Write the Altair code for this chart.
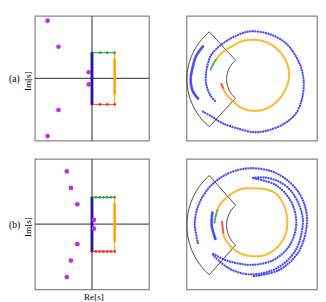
import altair as alt
import numpy as np
import pandas as pd

# ---------------- left panels : s-plane ----------------
poles_a_re = [-0.777, -0.587, -0.056, -0.056, -0.587, -0.777]
poles_a_im = [0.925, 0.507, 0.098, -0.098, -0.507, -0.925]
poles_b_re = [-0.441, -0.369, -0.257, 0.034, 0.034, -0.257, -0.369, -0.441]
poles_b_im = [0.810, 0.557, 0.305, 0.068, -0.068, -0.305, -0.557, -0.810]

contour_re = [0.0, 0.397]          # left / right edge of the contour
contour_im = [-0.418, 0.412]       # bottom / top edge of the contour
orange_dense_im = [-0.27, 0.32]
hdots_a = [0.0, 0.145, 0.268, 0.397]
hdots_b = [0.0, 0.067, 0.133, 0.2, 0.267, 0.333, 0.397]

# ---------------- right panels : image plane ----------------
sector_r = [0.40, 1.0]
sector_half_angle = 48.6

a_orange_x = [-0.444, -0.421, -0.299, -0.179, -0.009, 0.184, 0.383, 0.504, 0.547, 0.504, 0.383, 0.199, -0.009, -0.179, -0.324, -0.469, -0.566]
a_orange_y = [-0.160, -0.218, -0.353, -0.450, -0.498, -0.472, -0.329, -0.131, 0.065, 0.276, 0.460, 0.588, 0.624, 0.598, 0.518, 0.421, 0.300]
a_red_x = [-0.479, -0.462, -0.444]
a_red_y = [-0.073, -0.116, -0.160]
a_green_x = [-0.566, -0.607, -0.639]
a_green_y = [0.300, 0.232, 0.155]
a_blue1_ang = [145.7, 156.5, 166, 181, 192, 200]
a_blue1_r = [0.919, 0.935, 0.932, 0.943, 0.929, 0.885]
a_blue2_ang = [214, 224, 236, 250, 271, 284, 302, 320, 338, 359, 382, 409, 430, 452.5, 468, 485, 500, 510, 522, 533, 545, 560, 572]
a_blue2_r = [0.914, 0.856, 0.836, 0.813, 0.837, 0.839, 0.845, 0.845, 0.801, 0.765, 0.745, 0.755, 0.756, 0.759, 0.737, 0.726, 0.734, 0.740, 0.723, 0.716, 0.714, 0.697, 0.668]

b_orange_x = [-0.447, -0.430, -0.324, -0.179, -0.009, 0.184, 0.366, 0.489, 0.518, 0.460, 0.344, 0.184, 0.010, -0.179, -0.372, -0.493, -0.541]
b_orange_y = [-0.131, -0.189, -0.334, -0.431, -0.469, -0.450, -0.334, -0.145, 0.062, 0.319, 0.479, 0.544, 0.556, 0.547, 0.440, 0.319, 0.222]
b_red_x = [-0.469, -0.459, -0.447]
b_red_y = [0.044, -0.044, -0.131]
b_green_x = [-0.541, -0.563, -0.585]
b_green_y = [0.222, 0.145, 0.015]
# outer loop: starts at the bottom, runs counter-clockwise round to the left
b_blue1_ang = [271, 300, 330, 360, 379, 396.5, 414.8, 432.7, 452.3, 465, 478.4, 490.7, 503.3, 514.9, 525.5, 535, 541.2, 559]
b_blue1_r = [0.769, 0.784, 0.798, 0.813, 0.835, 0.849, 0.856, 0.861, 0.861, 0.864, 0.868, 0.871, 0.874, 0.877, 0.880, 0.881, 0.881, 0.878]
# second loop: from the top, clockwise to the lower left, then back inside
b_blue2_ang = [90, 75, 60, 45, 30, 13, 0, -30, -60, -92.6, -120, -145, -129, -111.5, -91, -60, -30, 0, 30, 60, 90]
b_blue2_r = [0.715, 0.745, 0.765, 0.775, 0.765, 0.760, 0.752, 0.747, 0.743, 0.745, 0.747, 0.750, 0.675, 0.620, 0.599, 0.610, 0.631, 0.653, 0.675, 0.697, 0.711]
b_blue4_ang = [162.9, 181, 200.6]
b_blue4_r = [0.643, 0.625, 0.605]

W_L, W_R = 119, 136
H_A, H_B = 130, 136
FONT = "Liberation Serif"
BLUE = "#2020ff"
NAVY = "#1c1c9c"
ORANGE = "#ffa500"
GREEN = "#2ca02c"
RED = "#ff2020"
PURPLE = "#c828ee"
FRAME = "#888888"

xl = alt.Scale(domain=[-1, 1], nice=False, zero=False)
yl = alt.Scale(domain=[-1, 1], nice=False, zero=False)
xr = alt.Scale(domain=[-1.006, 0.968], nice=False, zero=False)
yr = alt.Scale(domain=[-0.972, 1.0], nice=False, zero=False)


def seg(x, y, x2, y2, color, width, opacity=1.0):
    df = pd.DataFrame({"x": [x], "y": [y], "x2": [x2], "y2": [y2]})
    return alt.Chart(df).mark_rule(color=color, strokeWidth=width, opacity=opacity).encode(
        x=alt.X("x:Q", scale=xl, axis=None), y=alt.Y("y:Q", scale=yl, axis=None),
        x2="x2:Q", y2="y2:Q")


def left_panel(pre, pim, hdots, label, show_re, H):
    r0, r1 = contour_re
    i0, i1 = contour_im
    layers = [
        seg(-1, 0, 1, 0, "#555555", 1.3),
        seg(0, -1, 0, 1, "#555555", 1.3),
        seg(r0, i1, r1, i1, GREEN, 1.1),
        seg(r0, i0, r1, i0, RED, 1.1, 0.8),
        seg(r1, i0, r1, i1, ORANGE, 1.1),
        seg(r1, orange_dense_im[0], r1, orange_dense_im[1], ORANGE, 2.8, 0.9),
    ]
    hd = pd.DataFrame({"x": hdots * 2, "y": [i1] * len(hdots) + [i0] * len(hdots),
                       "c": ["g"] * len(hdots) + ["r"] * len(hdots)})
    layers.append(alt.Chart(hd).mark_circle(size=9, opacity=0.9).encode(
        x=alt.X("x:Q", scale=xl, axis=None), y=alt.Y("y:Q", scale=yl, axis=None),
        color=alt.Color("c:N", scale=alt.Scale(domain=["g", "r"], range=[GREEN, RED]), legend=None)))
    layers.append(seg(r0, i0, r0, i1, NAVY, 3.0))
    pdf = pd.DataFrame({"x": pre, "y": pim})
    layers.append(alt.Chart(pdf).mark_circle(size=24, color=PURPLE, opacity=1).encode(
        x=alt.X("x:Q", scale=xl, axis=None), y=alt.Y("y:Q", scale=yl, axis=None)))
    lab = pd.DataFrame({"t": [label]})
    layers.append(alt.Chart(lab).mark_text(font=FONT, fontSize=10, align="left", baseline="middle").encode(
        text="t:N", x=alt.value(-27), y=alt.value(H / 2 + 1)))
    ims = pd.DataFrame({"t": ["Im[s]"]})
    layers.append(alt.Chart(ims).mark_text(font=FONT, fontSize=9.5, angle=270, align="center", baseline="middle").encode(
        text="t:N", x=alt.value(-7), y=alt.value(H / 2 + 3)))
    if show_re:
        res = pd.DataFrame({"t": ["Re[s]"]})
        layers.append(alt.Chart(res).mark_text(font=FONT, fontSize=9.5, align="center", baseline="middle").encode(
            text="t:N", x=alt.value(W_L / 2 + 2), y=alt.value(H + 8)))
    return alt.layer(*layers).properties(width=W_L, height=H)


def curve_xy(xs, ys, color, width, gap=2.5):
    df = pd.DataFrame({"x": xs, "y": ys, "i": range(len(xs))})
    return alt.Chart(df).mark_line(color=color, strokeWidth=width, strokeDash=[0.1, gap],
                                   strokeCap="round", interpolate="catmull-rom", opacity=0.8).encode(
        x=alt.X("x:Q", scale=xr, axis=None), y=alt.Y("y:Q", scale=yr, axis=None), order="i:Q")


def curve_polar(ang, r, color, width, gap=2.6):
    a = np.radians(np.array(ang, dtype=float))
    rr = np.array(r, dtype=float)
    return curve_xy(list(rr * np.cos(a)), list(rr * np.sin(a)), color, width, gap)


def sector():
    h = sector_half_angle
    ri, ro = sector_r
    t_out = np.radians(np.linspace(180 - h, 180 + h, 40))
    t_in = np.radians(np.linspace(180 + h, 180 - h, 25))
    xs = list(ro * np.cos(t_out)) + list(ri * np.cos(t_in)) + [ro * np.cos(t_out[0])]
    ys = list(ro * np.sin(t_out)) + list(ri * np.sin(t_in)) + [ro * np.sin(t_out[0])]
    df = pd.DataFrame({"x": xs, "y": ys, "i": range(len(xs))})
    return alt.Chart(df).mark_line(color="#333333", strokeWidth=0.9).encode(
        x=alt.X("x:Q", scale=xr, axis=None), y=alt.Y("y:Q", scale=yr, axis=None), order="i:Q")


def right_a():
    layers = [sector(),
              curve_polar(a_blue1_ang, a_blue1_r, BLUE, 3.0, 2.0),
              curve_polar(a_blue2_ang, a_blue2_r, BLUE, 2.4),
              curve_xy(a_orange_x, a_orange_y, ORANGE, 2.4, 2.0),
              curve_xy(a_red_x, a_red_y, RED, 2.4, 2.0),
              curve_xy(a_green_x, a_green_y, GREEN, 2.4, 2.0)]
    return alt.layer(*layers).properties(width=W_R, height=H_A)


def right_b():
    layers = [sector(),
              curve_polar(b_blue1_ang, b_blue1_r, BLUE, 2.4),
              curve_polar(b_blue2_ang, b_blue2_r, BLUE, 2.4),
              curve_polar(b_blue4_ang, b_blue4_r, BLUE, 3.0, 2.0),
              curve_xy(b_orange_x, b_orange_y, ORANGE, 2.4, 2.0),
              curve_xy(b_red_x, b_red_y, RED, 2.4, 2.0),
              curve_xy(b_green_x, b_green_y, GREEN, 2.4, 2.0)]
    return alt.layer(*layers).properties(width=W_R, height=H_B)


row_a = alt.hconcat(left_panel(poles_a_re, poles_a_im, hdots_a, "(a)", False, H_A), right_a(), spacing=34)
row_b = alt.hconcat(left_panel(poles_b_re, poles_b_im, hdots_b, "(b)", True, H_B), right_b(), spacing=34)
chart = alt.vconcat(row_a, row_b, spacing=15).properties(
    padding={"left": 0, "top": 0, "right": 0, "bottom": 0}
).configure_view(stroke=FRAME, strokeWidth=1.3)

chart.save("out.html", embed_options={"renderer": "svg", "actions": False})
